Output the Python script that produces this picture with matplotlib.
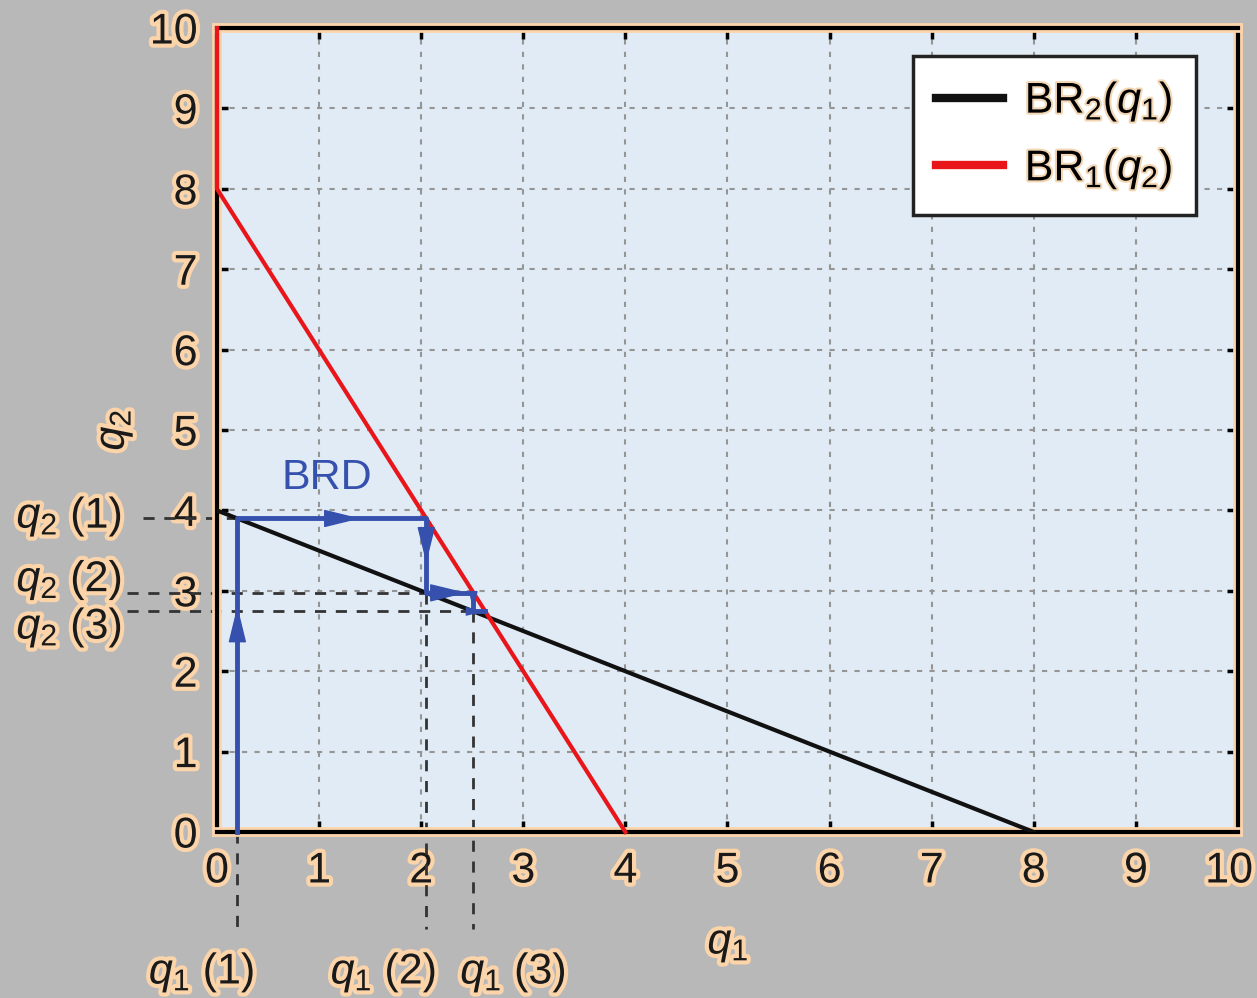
import matplotlib.pyplot as plt
import matplotlib.patheffects as pe
from matplotlib.transforms import ScaledTranslation

# best response lines
br2_q1 = [0, 8]
br2_q2 = [4, 0]
br1_q1 = [0, 0, 4]
br1_q2 = [10, 8, 0]

# best response dynamics path
brd_q1 = [0.2, 0.2, 2.05, 2.05, 2.51, 2.51, 2.63]
brd_q2 = [0, 3.9, 3.9, 2.975, 2.975, 2.744, 2.744]

# iterates marked below / left of the axes
q1_iter = [0.2, 2.05, 2.51]
q2_iter = [3.9, 2.975, 2.744]
q1_labels = ['$q_1$ (1)', '$q_1$ (2)', '$q_1$ (3)']
q2_labels = ['$q_2$ (1)', '$q_2$ (2)', '$q_2$ (3)']

ticks = list(range(11))

plt.rcParams['font.family'] = ['Liberation Sans', 'DejaVu Sans']
plt.rcParams['mathtext.fontset'] = 'custom'
plt.rcParams['mathtext.rm'] = 'Liberation Sans'
plt.rcParams['mathtext.it'] = 'Liberation Sans:italic'

glow = [pe.withStroke(linewidth=6, foreground='#fbd4aa')]
blue = '#3550ad'
ink = '#1a1a1a'
fs = 31

fig = plt.figure(figsize=(12.57, 9.98), dpi=100)
fig.patch.set_facecolor('#b8b8b8')
ax = fig.add_axes([0.1726, 0.1663, 0.8123, 0.8056])
ax.set_facecolor('#e1ebf5')

ax.grid(True, color='#959595', linestyle=(0, (2.5, 3.5)), linewidth=1.5)
ax.set_axisbelow(True)

# dashed guides to the iterates (run outside the axes)
dash = dict(color='#333333', ls=(0, (4, 3.5)), lw=2, clip_on=False)
ax.plot([-0.72, q1_iter[0]], [q2_iter[0], q2_iter[0]], **dash)
ax.plot([-0.88, q1_iter[1]], [q2_iter[1], q2_iter[1]], **dash)
ax.plot([-0.88, q1_iter[2]], [q2_iter[2], q2_iter[2]], **dash)
ax.plot([q1_iter[0], q1_iter[0]], [0, -1.2], **dash)
ax.plot([q1_iter[1], q1_iter[1]], [q2_iter[1], -1.2], **dash)
ax.plot([q1_iter[2], q1_iter[2]], [q2_iter[2], -1.2], **dash)

ax.plot(br2_q1, br2_q2, color='#111111', lw=3, label='BR$_2$($q_1$)', zorder=3)
ax.plot(br1_q1, br1_q2, color='#e8161b', lw=3, label='BR$_1$($q_2$)', zorder=3, clip_on=False)
ax.plot(brd_q1, brd_q2, color=blue, lw=3.5, zorder=4, clip_on=False)

# arrowheads along the path
fracs = [0.72, 0.65, 0.6, 0.85, 0.9, 0.9]
for i, f in enumerate(fracs):
    x0, x1 = brd_q1[i], brd_q1[i + 1]
    y0, y1 = brd_q2[i], brd_q2[i + 1]
    tx, ty = x0 + f * (x1 - x0), y0 + f * (y1 - y0)
    sx, sy = x0 + (f - 0.02) * (x1 - x0), y0 + (f - 0.02) * (y1 - y0)
    size = 26 if i < 4 else 12
    ax.annotate('', xy=(tx, ty), xytext=(sx, sy),
                arrowprops=dict(arrowstyle='-|>,head_length=0.9,head_width=0.22',
                                color=blue, lw=1, shrinkA=0, shrinkB=0,
                                mutation_scale=size), zorder=5)

ax.text(1.08, 4.4, 'BRD', color=blue, fontsize=fs, ha='center', va='center')

for x, lab in zip([-0.15, 1.63, 2.9], q1_labels):
    ax.text(x, -1.75, lab, fontsize=fs, ha='center', va='center', color=ink,
            clip_on=False, path_effects=glow)
for y, lab in zip([3.92, 3.13, 2.54], q2_labels):
    ax.text(-0.93, y, lab, fontsize=fs, ha='right', va='center', color=ink,
            clip_on=False, path_effects=glow)

ax.set_xlim(0, 10)
ax.set_ylim(0, 10)
ax.set_xticks(ticks)
ax.set_yticks(ticks)
ax.tick_params(direction='in', length=8, width=2.5, labelsize=fs,
               top=True, right=True, labelcolor=ink)
ax.tick_params(axis='x', pad=14)
ax.tick_params(axis='y', pad=14)
for lab in ax.get_xticklabels() + ax.get_yticklabels():
    lab.set_path_effects(glow)
last = ax.get_xticklabels()[-1]
last.set_transform(last.get_transform() + ScaledTranslation(-9 / 100, 0, fig.dpi_scale_trans))

for sp in ax.spines.values():
    sp.set_linewidth(3)
    sp.set_path_effects([pe.withStroke(linewidth=7, foreground='#fbd4aa')])

ax.set_xlabel('$q_1$', fontsize=fs, color=ink)
ax.xaxis.set_label_coords(0.5005, -0.14)
ax.xaxis.label.set_va('center')
ax.xaxis.label.set_path_effects(glow)
ax.set_ylabel('$q_2$', fontsize=fs, color=ink)
ax.yaxis.set_label_coords(-0.1, 0.5)
ax.yaxis.label.set_va('center')
ax.yaxis.label.set_path_effects(glow)

leg = ax.legend(loc='upper right', bbox_to_anchor=(0.959, 0.965), borderaxespad=0,
                fontsize=fs, fancybox=False, framealpha=1, edgecolor='#222222',
                handlelength=1.55, borderpad=0.55, labelspacing=0.55, handletextpad=0.5)
leg.get_frame().set_linewidth(2.5)
for line in leg.get_lines():
    line.set_linewidth(6)
for t in leg.get_texts():
    t.set_path_effects([pe.withStroke(linewidth=3, foreground='#f3d6b4')])

fig.savefig('out.png', dpi=100, facecolor=fig.get_facecolor())
